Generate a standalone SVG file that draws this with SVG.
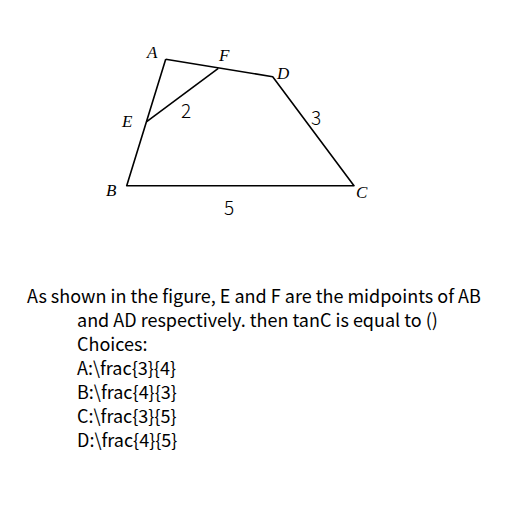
<svg xmlns="http://www.w3.org/2000/svg" width="512" height="512" viewBox="0 0 512 512">
<style>
.ln{stroke:#000;stroke-width:1.6;fill:none;stroke-linejoin:round}
.pt{font-family:"Liberation Serif",serif;font-style:italic;font-size:17px;fill:#000}
.num{font-family:"Noto Sans CJK SC","Noto Sans",sans-serif;font-size:19px;font-weight:300;fill:#000}
.q{font-family:"Noto Sans CJK SC","Noto Sans",sans-serif;font-size:18px;fill:#000}
</style>
<rect width="512" height="512" fill="#fff"/>
<g id="connectors">
<polyline class="ln" points="165.7,59.3 272.7,76.7 354,185.7 126.7,185.7 165.7,59.3"/>
<line class="ln" x1="146.7" y1="121.7" x2="218.3" y2="68.3"/>
</g>
<g id="A"><text class="pt" x="147" y="58">A</text></g>
<g id="F"><text class="pt" x="219" y="61">F</text></g>
<g id="D"><text class="pt" x="277" y="79">D</text></g>
<g id="E"><text class="pt" x="122" y="127">E</text></g>
<g id="B"><text class="pt" x="106" y="196">B</text></g>
<g id="C"><text class="pt" x="356" y="198">C</text></g>
<g id="labels">
<text class="num" x="181" y="118">2</text>
<text class="num" x="311" y="125">3</text>
<text class="num" x="224" y="215">5</text>
</g>
<g id="question">
<text class="q" x="27" y="303">As shown in the figure, E and F are the midpoints of AB</text>
<text class="q" x="77" y="327">and AD respectively. then tanC is equal to ()</text>
<text class="q" x="77" y="351">Choices:</text>
<text class="q" x="77" y="375">A:\frac{3}{4}</text>
<text class="q" x="77" y="399">B:\frac{4}{3}</text>
<text class="q" x="77" y="423">C:\frac{3}{5}</text>
<text class="q" x="77" y="447">D:\frac{4}{5}</text>
</g>
</svg>
